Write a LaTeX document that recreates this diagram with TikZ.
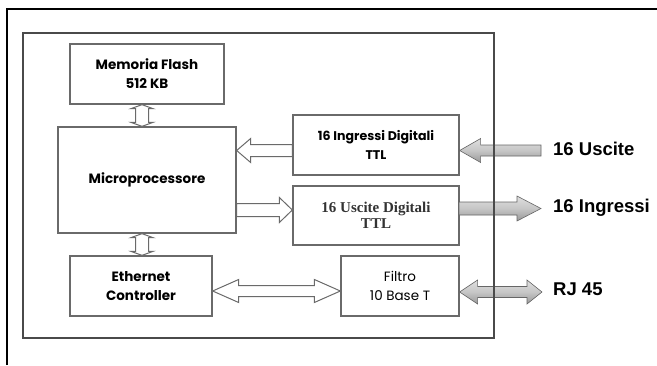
\documentclass[tikz,border=0pt]{standalone}
\usepackage{fontspec}
\setmainfont{Liberation Sans}
\newfontfamily\gothic{Poppins}
\newfontfamily\serifb{Liberation Serif}
\usetikzlibrary{calc}
\definecolor{boxline}{HTML}{6A6A6A}
\definecolor{frameline}{HTML}{4A4A4A}
\tikzset{
  blk/.style={draw=boxline, line width=1.3pt, fill=white, align=center, inner sep=0pt},
  gtxt/.style={font=\gothic\bfseries\fontsize{13.5}{19}\selectfont},
  hollow/.style={draw=boxline, line width=1pt, fill=white, line join=miter},
  shade3d/.style={draw=gray!80!black, line width=0.6pt, top color=gray!25, bottom color=gray!80, middle color=gray!45, line join=miter},
  extlabel/.style={font=\bfseries\fontsize{18.5}{20}\selectfont, anchor=west, inner sep=0pt}
}
% right-pointing single arrow: #1 tail coord, #2 tip coord, #3 style, #4 head length, #5 shaft half, #6 head half
\newcommand\arrR[6]{\path[#3] ($(#1)+(0,-#5)$) -- ($(#2)+(-#4,-#5)$) -- ($(#2)+(-#4,-#6)$) -- (#2) -- ($(#2)+(-#4,#6)$) -- ($(#2)+(-#4,#5)$) -- ($(#1)+(0,#5)$) -- cycle;}
% left-pointing single arrow: #1 tail (right), #2 tip (left)
\newcommand\arrL[6]{\path[#3] ($(#1)+(0,-#5)$) -- ($(#2)+(#4,-#5)$) -- ($(#2)+(#4,-#6)$) -- (#2) -- ($(#2)+(#4,#6)$) -- ($(#2)+(#4,#5)$) -- ($(#1)+(0,#5)$) -- cycle;}
% double horizontal arrow: #1 left tip, #2 right tip
\newcommand\arrLR[7]{\path[#3] (#1) -- ($(#1)+(#4,-#6)$) -- ($(#1)+(#4,-#5)$) -- ($(#2)+(-#7,-#5)$) -- ($(#2)+(-#7,-#6)$) -- (#2) -- ($(#2)+(-#7,#6)$) -- ($(#2)+(-#7,#5)$) -- ($(#1)+(#4,#5)$) -- ($(#1)+(#4,#6)$) -- cycle;}
% double vertical arrow: #1 top tip, #2 bottom tip
\newcommand\arrUD[2]{\path[hollow] (#1) -- ($(#1)+(-11,4)$) -- ($(#1)+(-6.5,4)$) -- ($(#2)+(-6.5,-4)$) -- ($(#2)+(-11,-4)$) -- (#2) -- ($(#2)+(11,-4)$) -- ($(#2)+(6.5,-4)$) -- ($(#1)+(6.5,4)$) -- ($(#1)+(11,4)$) -- cycle;}
\begin{document}
\begin{tikzpicture}[x=1pt,y=-1pt]
\useasboundingbox (0,0) rectangle (657,365);
\fill[white] (0,0) rectangle (657,365);
% outer thin frame (clipped by page)
\draw[black, line width=1.2pt] (7,365) -- (7,9) -- (657,9);

% blocks
\node[blk, gtxt, minimum width=154, minimum height=60] (mem) at (147,74) {Memoria Flash\\512 KB};
\node[blk, gtxt, minimum width=178, minimum height=106] (cpu) at (147,180) {Microprocessore};
\node[blk, gtxt, minimum width=142, minimum height=60] (eth) at (141,286) {Ethernet\\Controller};
\node[blk, font=\gothic\bfseries\fontsize{12.6}{19}\selectfont, minimum width=166, minimum height=60] (din) at (376,145) {16 Ingressi Digitali\\TTL};
\node[blk, font=\serifb\bfseries\fontsize{15}{16.5}\selectfont, text=black!80, minimum width=166, minimum height=59] (dout) at (376,215.5) {16 Uscite Digitali\\TTL};
\node[blk, font=\gothic\fontsize{13.5}{19}\selectfont, minimum width=118, minimum height=60] (fil) at (400,286) {Filtro\\10 Base T};

% internal hollow arrows
\coordinate (a1) at (mem.south -| 142,0);
\coordinate (a2) at (cpu.north -| 142,0);
\arrUD{a1}{a2}
\coordinate (b1) at (cpu.south -| 142,0);
\coordinate (b2) at (eth.north -| 142,0);
\arrUD{b1}{b2}

\coordinate (c1) at (din.west |- 0,150.5);
\coordinate (c2) at (cpu.east |- 0,150.5);
\arrL{c1}{c2}{hollow}{14}{6}{12}

\coordinate (d1) at (cpu.east |- 0,210);
\coordinate (d2) at (dout.west |- 0,210);
\arrR{d1}{d2}{hollow}{13}{6.5}{12.5}

\coordinate (e1) at (eth.east |- 0,291);
\coordinate (e2) at (fil.west |- 0,291);
\arrLR{e1}{e2}{hollow}{26}{5.5}{11.5}{26}

% external shaded arrows
\coordinate (usc) at (541,150.5);
\coordinate (f2) at (din.east |- usc);
\arrL{usc}{f2}{shade3d}{21}{5.5}{12}

\coordinate (ing) at (459,208.5);
\coordinate (g2) at (541,208.5);
\arrR{ing}{g2}{shade3d}{24}{6.5}{12.5}

\coordinate (h1) at (fil.east |- 0,292);
\coordinate (rj) at (542,292);
\arrLR{h1}{rj}{shade3d}{18}{5.5}{12}{15}

% inner thick frame (drawn over arrows)
\draw[frameline, line width=2.6pt] (23,33) rectangle (494,338);

% external labels
\node[extlabel] (l1) at (553,148.5) {16 Uscite};
\node[extlabel] (l2) at (553,208) {16 Ingressi};
\node[extlabel] (l3) at (553,289.5) {RJ 45};
\end{tikzpicture}
\end{document}
